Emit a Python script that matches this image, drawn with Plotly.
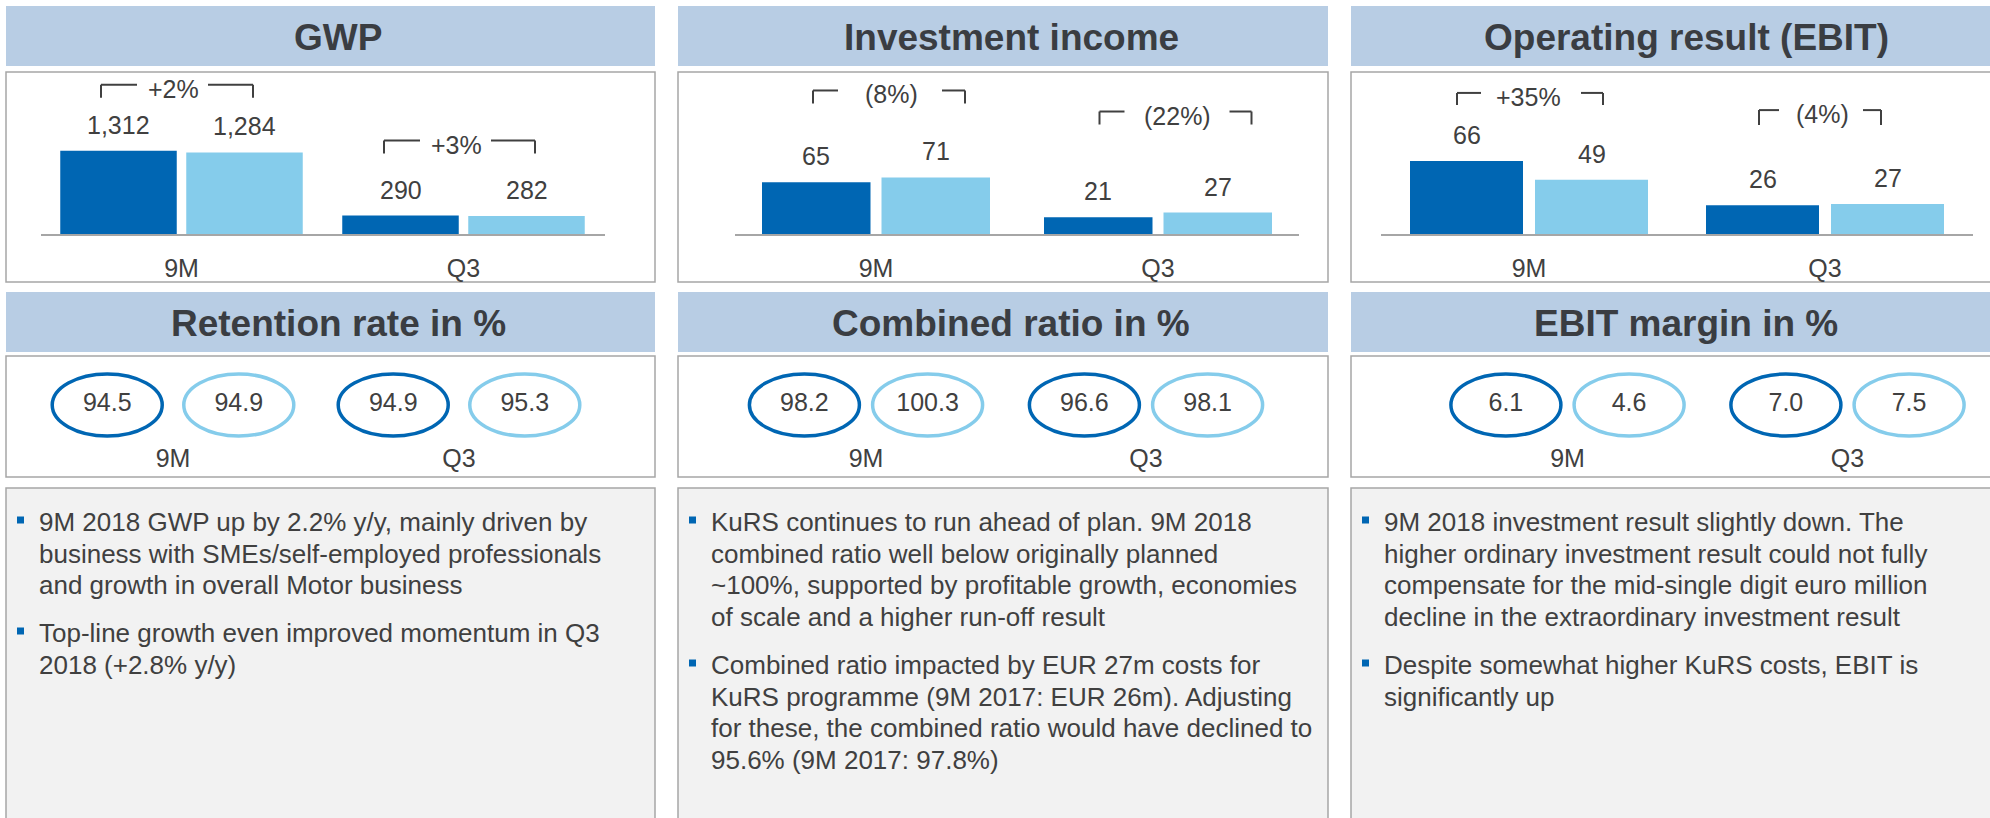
import plotly.graph_objects as go

W, H = 1990, 818

# ---------------- data ----------------
categories = ["9M", "Q3"]

gwp_2018 = [1312, 290]
gwp_2017 = [1284, 282]
gwp_growth = ["+2%", "+3%"]

inv_2018 = [65, 21]
inv_2017 = [71, 27]
inv_growth = ["(8%)", "(22%)"]

ebit_2018 = [66, 26]
ebit_2017 = [49, 27]
ebit_growth = ["+35%", "(4%)"]

retention_2018 = [94.5, 94.9]
retention_2017 = [94.9, 95.3]
combined_2018 = [98.2, 96.6]
combined_2017 = [100.3, 98.1]
margin_2018 = [6.1, 7.0]
margin_2017 = [4.6, 7.5]

headers_top = ["GWP", "Investment income", "Operating result (EBIT)"]
headers_mid = ["Retention rate in %", "Combined ratio in %", "EBIT margin in %"]

bullets_gwp = [
    ["9M 2018 GWP up by 2.2% y/y, mainly driven by",
     "business with SMEs/self-employed professionals",
     "and growth in overall Motor business"],
    ["Top-line growth even improved momentum in Q3",
     "2018 (+2.8% y/y)"],
]
bullets_cr = [
    ["KuRS continues to run ahead of plan. 9M 2018",
     "combined ratio well below originally planned",
     "~100%, supported by profitable growth, economies",
     "of scale and a higher run-off result"],
    ["Combined ratio impacted by EUR 27m costs for",
     "KuRS programme (9M 2017: EUR 26m). Adjusting",
     "for these, the combined ratio would have declined to",
     "95.6% (9M 2017: 97.8%)"],
]
bullets_ebit = [
    ["9M 2018 investment result slightly down. The",
     "higher ordinary investment result could not fully",
     "compensate for the mid-single digit euro million",
     "decline in the extraordinary investment result"],
    ["Despite somewhat higher KuRS costs, EBIT is",
     "significantly up"],
]

# ---------------- styles ----------------
FONT = "Liberation Sans, Arial, sans-serif"
DARK = "#0066B3"
LIGHT = "#85CCEB"
TXT = "#404040"
HEAD_TXT = "#3A3D42"
HEAD_BG = "#B8CDE4"
BORDER = "#A6A6A6"
BOX_BG = "#F2F2F2"


def px(x):
    return x / W


def py(y):
    return 1 - y / H


col_left = [6, 678, 1351]
col_right = [655, 1328, 2004]
head_text_x = [338, 1011, 1686]

fig = go.Figure()
shapes = []
annotations = []

# frames
for c in range(3):
    x0, x1 = px(col_left[c]), px(col_right[c])
    for (ya, yb, fill, line) in [
        (6, 66, HEAD_BG, None),
        (72, 282, "white", BORDER),
        (292, 352, HEAD_BG, None),
        (356, 477, "white", BORDER),
        (488, 830, BOX_BG, BORDER),
    ]:
        shapes.append(dict(type="rect", xref="paper", yref="paper", x0=x0, x1=x1,
                           y0=py(yb), y1=py(ya), fillcolor=fill, layer="below",
                           line=dict(color=line or fill, width=1.5 if line else 0)))
    for (yc, txt) in [(37, headers_top[c]), (323, headers_mid[c])]:
        annotations.append(dict(xref="paper", yref="paper", x=px(head_text_x[c]), y=py(yc),
                                text="<b>%s</b>" % txt, showarrow=False, xanchor="center",
                                yanchor="middle", font=dict(family=FONT, size=37, color=HEAD_TXT)))

# ---------------- bar charts ----------------
bar_series = [
    (gwp_2018, gwp_2017, gwp_growth, lambda v: f"{v:,}"),
    (inv_2018, inv_2017, inv_growth, lambda v: f"{v}"),
    (ebit_2018, ebit_2017, ebit_growth, lambda v: f"{v}"),
]
bar_specs = [
    dict(dom=(40.5, 604.5), yr=2520, bw=116.5, gap=9.5),
    dict(dom=(735, 1299), yr=201, bw=108.5, gap=11),
    dict(dom=(1381, 1973), yr=144.5, bw=113, gap=12),
]
# bracket styling per chart/group: (text dx, text dy, L_out, L_in, R_in, R_out, tick height)
bracket_style = [
    [(-8.5, 62, 72, 36, 35, 80, 13), (-7.5, 71, 72, 36, 35, 79, 13)],
    [(15, 83, 78, 53, 51, 74, 13), (19.5, 97, 78, 53, 52, 74, 13)],
    [(-1, 64, 71, 47, 53, 75, 12), (-3, 90, 63, 43, 41, 59, 15)],
]
BAR_TOP, BAR_BASE = 74, 234

for k, (cur, prev, growth, fmt) in enumerate(bar_series):
    spec = bar_specs[k]
    xa = "x" if k == 0 else f"x{k+1}"
    ya = "y" if k == 0 else f"y{k+1}"
    unit = (spec["dom"][1] - spec["dom"][0]) / 2
    w = spec["bw"] / unit
    g = spec["gap"] / unit
    xs = list(range(len(categories)))
    fig.add_trace(go.Bar(x=xs, y=cur, width=w, offset=-(w + g / 2), marker=dict(color=DARK, line=dict(width=0)),
                         xaxis=xa, yaxis=ya, hoverinfo="skip", showlegend=False))
    fig.add_trace(go.Bar(x=xs, y=prev, width=w, offset=g / 2, marker=dict(color=LIGHT, line=dict(width=0)),
                         xaxis=xa, yaxis=ya, hoverinfo="skip", showlegend=False))
    for i in xs:
        for v, dx in [(cur[i], -(g / 2 + w / 2)), (prev[i], g / 2 + w / 2)]:
            annotations.append(dict(xref=xa, yref=ya, x=i + dx, y=v, text=fmt(v), showarrow=False,
                                    xanchor="center", yanchor="middle", yshift=26,
                                    font=dict(family=FONT, size=25, color=TXT)))
        tx, dy, lo, li, ri, ro, th = bracket_style[k][i]
        top = max(cur[i], prev[i])
        annotations.append(dict(xref=xa, yref=ya, x=i, y=top, text=growth[i], showarrow=False,
                                xanchor="center", yanchor="middle", xshift=tx, yshift=dy,
                                font=dict(family=FONT, size=25, color=TXT)))
        ty = dy + 4
        for (ax0, ax1, ay0, ay1) in [
            (tx - lo, tx - lo, ty - th, ty),
            (tx - lo, tx - li, ty, ty),
            (tx + ri, tx + ro, ty, ty),
            (tx + ro, tx + ro, ty - th, ty),
        ]:
            shapes.append(dict(type="line", xref=xa, yref=ya, xsizemode="pixel", ysizemode="pixel",
                               xanchor=i, yanchor=top, x0=ax0, x1=ax1, y0=ay0, y1=ay1,
                               line=dict(color=TXT, width=2)))
    fig.update_layout({
        ("xaxis" if k == 0 else f"xaxis{k+1}"): dict(
            domain=[px(spec["dom"][0]), px(spec["dom"][1])], anchor=ya, range=[-0.5, 1.5],
            tickvals=xs, ticktext=categories, showline=True, linecolor=BORDER, linewidth=2,
            ticks="outside", ticklen=11, tickcolor="rgba(0,0,0,0)", showgrid=False, zeroline=False,
            tickfont=dict(family=FONT, size=25, color=TXT), fixedrange=True),
        ("yaxis" if k == 0 else f"yaxis{k+1}"): dict(
            domain=[py(BAR_BASE), py(BAR_TOP)], anchor=xa, range=[0, spec["yr"]], visible=False,
            fixedrange=True),
    })

# ---------------- ellipse (ratio) charts ----------------
ratio_series = [
    (retention_2018, retention_2017),
    (combined_2018, combined_2017),
    (margin_2018, margin_2017),
]
ratio_specs = [
    dict(dom=(30, 602), off=0.23),
    dict(dom=(726, 1286), off=0.22),
    dict(dom=(1427.5, 1987.5), off=0.22),
]
ELL_TOP, ELL_BASE = 368, 442

for k, (cur, prev) in enumerate(ratio_series):
    spec = ratio_specs[k]
    n = k + 4
    xa, ya = f"x{n}", f"y{n}"
    xs = list(range(len(categories)))
    for vals, sgn, col in [(cur, -1, DARK), (prev, 1, LIGHT)]:
        xpos = [i + sgn * spec["off"] for i in xs]
        fig.add_trace(go.Scatter(x=xpos, y=[0.5] * len(xs), mode="text", text=[f"{v:.1f}" for v in vals],
                                 textposition="middle center", textfont=dict(family=FONT, size=25, color=TXT),
                                 xaxis=xa, yaxis=ya, hoverinfo="skip", showlegend=False))
        for xp in xpos:
            shapes.append(dict(type="circle", xref=xa, yref=ya, xsizemode="pixel", ysizemode="pixel",
                               xanchor=xp, yanchor=0.5, x0=-55, x1=55, y0=-31, y1=31,
                               line=dict(color=col, width=3.5)))
    fig.update_layout({
        f"xaxis{n}": dict(domain=[px(spec["dom"][0]), px(spec["dom"][1])], anchor=ya, range=[-0.5, 1.5],
                          tickvals=xs, ticktext=categories, showline=False, ticks="", ticklabelstandoff=-1,
                          showgrid=False, zeroline=False,
                          tickfont=dict(family=FONT, size=25, color=TXT), fixedrange=True),
        f"yaxis{n}": dict(domain=[py(ELL_BASE), py(ELL_TOP)], anchor=xa, range=[0, 1], visible=False,
                          fixedrange=True),
    })

# ---------------- commentary ----------------
bullet_sets = [bullets_gwp, bullets_cr, bullets_ebit]
first_line_y = [[522, 633], [522, 665], [522, 665]]
LINE_PITCH = 31.6
for c in range(3):
    for b, lines in enumerate(bullet_sets[c]):
        yc = first_line_y[c][b]
        bx = col_left[c] + 14.5
        shapes.append(dict(type="rect", xref="paper", yref="paper", x0=px(bx - 3.5), x1=px(bx + 3.5),
                           y0=py(yc + 1.5), y1=py(yc - 5.5), fillcolor=DARK, line=dict(width=0)))
        for j, line in enumerate(lines):
            annotations.append(dict(xref="paper", yref="paper", x=px(col_left[c] + 30.5),
                                    y=py(yc + j * LINE_PITCH), text=line, showarrow=False,
                                    xanchor="left", yanchor="middle", align="left",
                                    font=dict(family=FONT, size=26, color=TXT)))

fig.update_layout(
    width=W, height=H, margin=dict(l=0, r=0, t=0, b=0),
    paper_bgcolor="white", plot_bgcolor="rgba(0,0,0,0)",
    barmode="overlay", showlegend=False,
    shapes=shapes, annotations=annotations,
    font=dict(family=FONT, color=TXT),
)

fig.write_html("out.html", config={"displayModeBar": False},
               post_script="document.body.style.margin='0';")
